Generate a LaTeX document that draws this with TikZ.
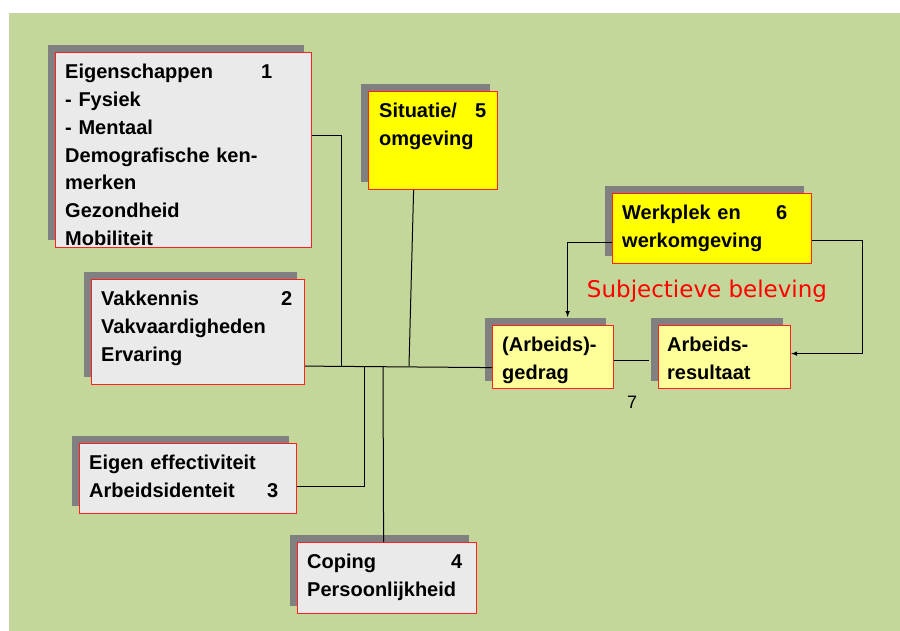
\documentclass[tikz,border=0pt]{standalone}
\usepackage{fontspec}
\setmainfont{Liberation Sans}
\newfontfamily\handfont{DejaVu Sans}
\usetikzlibrary{shadows}
\definecolor{bggreen}{HTML}{C4D79B}
\definecolor{shadowgray}{HTML}{808080}
\definecolor{boxgray}{HTML}{EAEAEA}
\definecolor{boxyellow}{HTML}{FFFF00}
\definecolor{paleyellow}{HTML}{FFFF99}
\definecolor{boxred}{HTML}{FF2020}

\begin{document}
\begin{tikzpicture}[
    x = 1pt, y = -1pt,
    every node/.style = {inner sep = 0pt},
    box/.style = {draw = boxred, line width = 1.2pt, anchor = north west,
        drop shadow = {shadow xshift = -7.5pt, shadow yshift = 7.5pt, fill = shadowgray, opacity = 1}},
    boxtext/.style = {anchor = north west, align = left,
        font = \fontsize{20}{27.8}\selectfont\bfseries},
    link/.style = {line width = 1pt}
]
\useasboundingbox (0,0) rectangle (900,631);
\fill[white] (0,0) rectangle (900,631);
\fill[bggreen] (9,13) rectangle (900,631);

\node[box, fill = boxgray, minimum width = 256pt, minimum height = 195pt] (eig) at (55,52) {};
\node[box, fill = boxgray, minimum width = 213pt, minimum height = 105pt] (vak) at (91,279) {};
\node[box, fill = boxgray, minimum width = 217pt, minimum height = 70pt] (eff) at (79,443) {};
\node[box, fill = boxgray, minimum width = 179pt, minimum height = 71pt] (cop) at (297,542) {};
\node[box, fill = boxyellow, minimum width = 129pt, minimum height = 98pt] (sit) at (368,91) {};
\node[box, fill = boxyellow, minimum width = 199pt, minimum height = 70pt] (werk) at (612,193) {};
\node[box, fill = paleyellow, minimum width = 121pt, minimum height = 63pt] (gedrag) at (492,325) {};
\node[box, fill = paleyellow, minimum width = 132pt, minimum height = 63pt] (result) at (658,325) {};

% texts
\node[boxtext, text width = 207pt] (eigtext) at ([shift = {(10,7)}]eig.north west)
    {\strut Eigenschappen\hfill 1\\- Fysiek\\- Mentaal\\Demografische ken-\\merken\\Gezondheid\\Mobiliteit};
\node[boxtext, text width = 191pt] (vaktext) at ([shift = {(10,7)}]vak.north west)
    {\strut Vakkennis\hfill 2\\Vakvaardigheden\\Ervaring};
\node[boxtext, text width = 189pt] (efftext) at ([shift = {(10,7)}]eff.north west)
    {\strut Eigen effectiviteit\\Arbeidsidenteit\hfill 3};
\node[boxtext, text width = 155pt] (coptext) at ([shift = {(10,7)}]cop.north west)
    {\strut Coping\hfill 4\\Persoonlijkheid};
\node[boxtext, text width = 107pt] (sittext) at ([shift = {(11,7)}]sit.north west)
    {\strut Situatie/\hfill 5\\omgeving};
\node[boxtext, text width = 165pt] (werktext) at ([shift = {(10,7)}]werk.north west)
    {\strut Werkplek en\hfill 6\\werkomgeving};
\node[boxtext] (gedragtext) at ([shift = {(10,7)}]gedrag.north west)
    {\strut (Arbeids)-\\gedrag};
\node[boxtext] (resulttext) at ([shift = {(9,7)}]result.north west)
    {\strut Arbeids-\\resultaat};
\node[font = \handfont\fontsize{23}{27}\selectfont, text = red] (beleving) at (707,291) {Subjectieve beleving};
\node[font = \fontsize{18}{20}\selectfont] (nr7) at (632,402) {7};

% lines
\coordinate (jeig) at (341,366);
\coordinate (jeff) at (364,366);
\coordinate (jcop) at (383,366);
\coordinate (jsit) at (409,366);
\draw[link] ([shift = {(0,34)}]vak.east) -- ([shift = {(0,10.5)}]gedrag.west);
\draw[link] ([shift = {(0,-14.5)}]eig.east) -| (jeig);
\draw[link] ([shift = {(-19.5,0)}]sit.south) -- (jsit);
\draw[link] ([shift = {(0,8)}]eff.east) -| (jeff);
\draw[link] ([shift = {(-3.5,0)}]cop.north) -- (jcop);
\draw[link] ([shift = {(0,3.5)}]gedrag.east) -- ([shift = {(-9,3.5)}]result.west);
% arrows
\draw[link, -latex] ([shift = {(0,14)}]werk.west) -| ([shift = {(14.5,-8)}]gedrag.north);
\draw[link, -latex] ([shift = {(0,12)}]werk.east) -- ++(50,0) |- ([shift = {(0,-3.5)}]result.east);

\end{tikzpicture}
\end{document}
